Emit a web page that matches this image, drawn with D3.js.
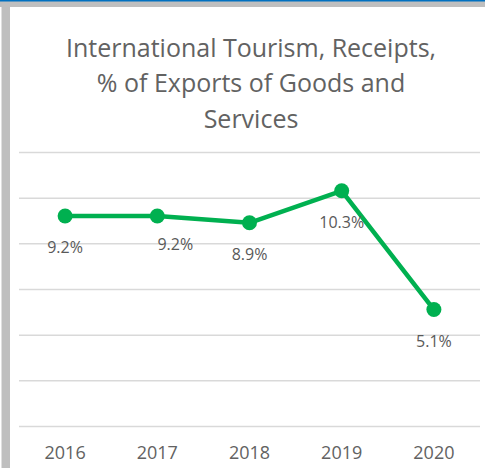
<!DOCTYPE html>
<html>
<head>
<meta charset="utf-8">
<script src="https://cdn.jsdelivr.net/npm/d3@7"></script>
<style>
  html, body { margin: 0; padding: 0; background: #fff; }
  svg { display: block; }
</style>
</head>
<body>
<svg id="chart" width="485" height="468"></svg>
<script>
const titleLines = ["International Tourism, Receipts,", "% of Exports of Goods and", "Services"];
const years = ["2016", "2017", "2018", "2019", "2020"];
const values = [9.2, 9.2, 8.9, 10.3, 5.1];
const labels = ["9.2%", "9.2%", "8.9%", "10.3%", "5.1%"];
const gridTicks = [0, 2, 4, 6, 8, 10, 12];

const svg = d3.select("#chart");
const W = 485, H = 468;
const font = "'Open Sans', 'DejaVu Sans', sans-serif";

// frame
svg.append("rect").attr("x", 0).attr("y", 0).attr("width", W).attr("height", H).attr("fill", "#fff");
svg.append("rect").attr("x", 0).attr("y", 0).attr("width", W).attr("height", 7).attr("fill", "#BFBFBF");
svg.append("rect").attr("x", 1.5).attr("y", 0).attr("width", 8.5).attr("height", H).attr("fill", "#BFBFBF");
svg.append("rect").attr("x", 0).attr("y", 0).attr("width", W).attr("height", 1.5).attr("fill", "#0070C0");

// title
const title = svg.append("text").attr("text-anchor", "middle")
  .attr("font-family", font).attr("font-size", 25).attr("fill", "#626262");
const baselines = [56.5, 92, 127.5];
titleLines.forEach((t, i) => {
  title.append("tspan").attr("x", 251).attr("y", baselines[i]).text(t);
});

const x = d3.scaleBand().domain(years).range([19, 480]);
const y = d3.scaleLinear().domain([0, 12]).range([426, 152]);

// gridlines
const yAxis = d3.axisLeft(y).tickValues(gridTicks).tickSize(-(480 - 19)).tickFormat("");
const gy = svg.append("g").attr("transform", "translate(19,0)").call(yAxis);
gy.select(".domain").remove();
gy.selectAll(".tick line").attr("stroke", "#D9D9D9").attr("stroke-width", 1.5);

// x axis labels
const xAxis = d3.axisBottom(x).tickSize(0).tickPadding(0);
const gx = svg.append("g").attr("transform", "translate(0,446)").call(xAxis);
gx.select(".domain").remove();
gx.selectAll(".tick text").attr("font-family", font).attr("font-size", 18)
  .attr("fill", "#626262").attr("dy", "0.71em");

const cx = d => x(d) + x.bandwidth() / 2;

// line
const line = d3.line().x((d, i) => cx(years[i])).y(d => y(d));
svg.append("path").datum(values).attr("d", line)
  .attr("fill", "none").attr("stroke", "#00B050").attr("stroke-width", 4.5)
  .attr("stroke-linejoin", "round");

svg.selectAll("circle.pt").data(values).enter().append("circle")
  .attr("class", "pt")
  .attr("cx", (d, i) => cx(years[i])).attr("cy", d => y(d)).attr("r", 7.5)
  .attr("fill", "#00B050");

// data labels (the 2017 label was nudged right in the original)
svg.selectAll("text.lbl").data(values).enter().append("text")
  .attr("class", "lbl")
  .attr("x", (d, i) => cx(years[i]) + (i === 1 ? 18 : 0))
  .attr("y", (d, i) => y(d) + (i === 1 ? 34 : 37))
  .attr("text-anchor", "middle").attr("font-family", font).attr("font-size", 16)
  .attr("fill", "#595959").text((d, i) => labels[i]);
</script>
</body>
</html>
